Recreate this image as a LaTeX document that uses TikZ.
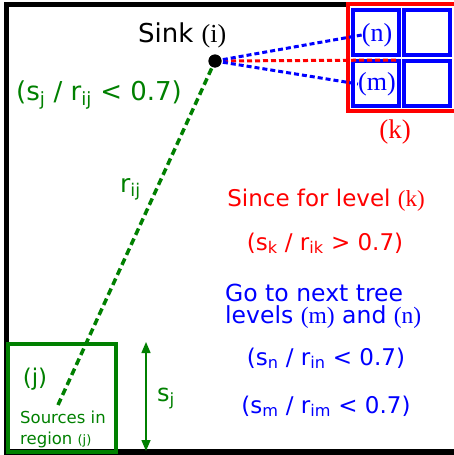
\documentclass[tikz,border=0pt]{standalone}
\usepackage{fontspec}
\setmainfont{DejaVu Sans}
\newfontfamily\seriffam{Liberation Serif}
\usetikzlibrary{arrows.meta}
\definecolor{dgreen}{RGB}{0,128,0}
\newcommand\sbs[1]{\textsubscript{#1}}
\newcommand\bigf{\fontsize{23}{25}\selectfont}
\newcommand\largef{\fontsize{26}{28}\selectfont}
\newcommand\smlf{\fontsize{16.5}{18}\selectfont}
\begin{document}
\begin{tikzpicture}[x=1pt,y=-1pt,
  txt/.style={inner sep=0, anchor=base},
  bbox/.style={draw=blue, line width=3.3, minimum width=46, minimum height=45, inner sep=0},
  bdash/.style={blue, line width=3, dash pattern=on 5 off 3},
  rdash/.style={red, line width=3, dash pattern=on 5 off 3},
  gdash/.style={dgreen, line width=3.5, dash pattern=on 7 off 4}]
\useasboundingbox (0,0) rectangle (453,455);
% frame
\draw[line width=5.5] (348,4.5) -- (6.5,4.5) -- (6.5,452) -- (456,452);
% red box
\draw[red, line width=4] (456,3.5) -- (348,3.5) -- (348,110.5) -- (456,110.5);
% blue boxes
\node[bbox] (bn) at (376,32.5) {};
\node[bbox] (bnr) at (427,32.5) {};
\node[bbox] (bm) at (376,83.5) {};
\node[bbox] (bmr) at (427,83.5) {};
\node[inner sep=0, blue] (tn) at (377,35) {\fontsize{26}{28}\seriffam (n)};
\node[inner sep=0, blue] (tm) at (377,84) {\fontsize{26}{28}\seriffam (m)};
\node[txt, red] (tk) at (395,138) {\fontsize{27}{29}\seriffam (k)};
% green box
\node[draw=dgreen, line width=3.5, minimum width=108, minimum height=108, inner sep=0] (gbox) at (62,398) {};
\coordinate (jend) at (58,405);
% sink
\node[circle, fill=black, minimum size=13, inner sep=0] (sink) at (215,61) {};
\coordinate (kend) at (399,60);
\draw[rdash] (sink.center) -- (kend);
\draw[bdash] (sink.center) -- (tn.west);
\draw[bdash] (sink.center) -- (tm.west);
\draw[gdash] (jend) -- (sink.center);
\node[circle, fill=black, minimum size=13, inner sep=0] at (sink) {};
% labels
\node[txt, anchor=base west] (sinkl) at (138,42) {\largef Sink {\seriffam (i)}};
\node[txt, dgreen] (cj) at (99,100) {\largef (s\sbs{j} / r\sbs{ij} < 0.7)};
\node[txt, dgreen, anchor=base west] (rij) at (120,192) {\fontsize{25}{27}\selectfont r\sbs{ij}};
\node[txt, red] (l1) at (326,206) {\bigf Since for level {\seriffam (k)}};
\node[txt, red] (l2) at (325,250) {\bigf (s\sbs{k} / r\sbs{ik} > 0.7)};
\node[txt, blue, anchor=base west, align=left, font=\fontsize{23.5}{22}\selectfont] (l3) at (225,323.5) {Go to next tree\\levels {\seriffam (m)} and {\seriffam (n)}};
\node[txt, blue] (l5) at (326,365) {\bigf (s\sbs{n} / r\sbs{in} < 0.7)};
\node[txt, blue] (l6) at (326,413) {\bigf (s\sbs{m} / r\sbs{im} < 0.7)};
% bottom left
\node[txt, dgreen] (jl) at (35,385) {\bigf (j)};
\node[txt, dgreen, anchor=base west] (src1) at (20,423) {\smlf Sources in};
\node[txt, dgreen, anchor=base west] (src2) at (20,444) {\smlf region {\fontsize{13}{14}\selectfont (j)}};
\coordinate (s1) at (146,342);
\coordinate (s2) at (146,451);
\draw[dgreen, line width=1.5, {Triangle[length=11,width=9]}-{Triangle[length=11,width=9]}] (s1) -- (s2);
\node[txt, dgreen, anchor=base west] (sj) at (157,401) {\fontsize{24}{26}\selectfont s\sbs{j}};
\end{tikzpicture}
\end{document}
